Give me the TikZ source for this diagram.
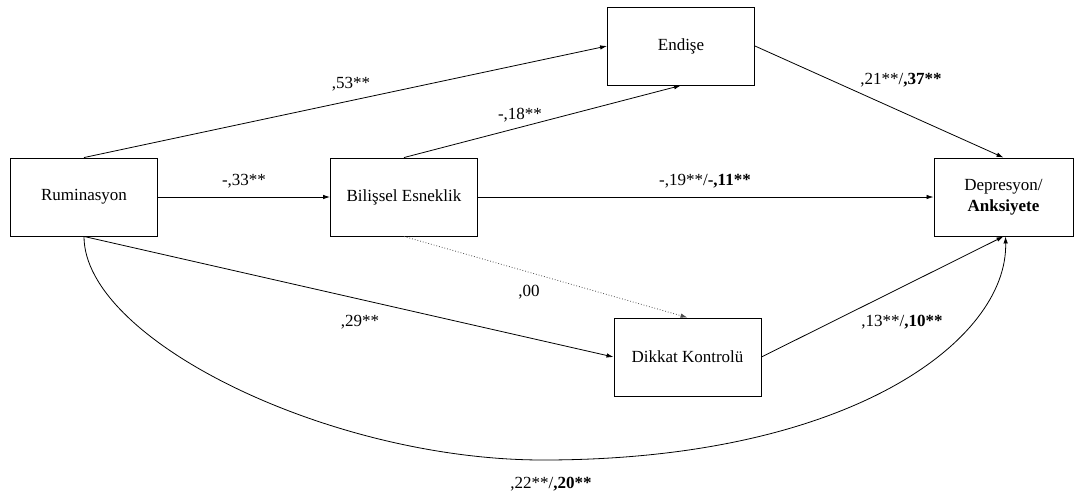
\documentclass[tikz,border=0pt]{standalone}
\usepackage{fontspec}
\setmainfont{Liberation Serif}
\usetikzlibrary{arrows.meta}
\begin{document}
\begin{tikzpicture}[x=1pt,y=-1pt,
  box/.style={draw, line width=0.9pt, minimum width=147pt, minimum height=78pt, inner sep=0pt, align=center, font=\fontsize{17}{21}\selectfont},
  lbl/.style={inner sep=0pt, font=\fontsize{17}{20}\selectfont},
  conn/.style={line width=0.8pt, -{Latex[length=7pt,width=4.5pt]}},
  dotconn/.style={line width=0.8pt, dotted, draw=black!70, -{Latex[length=7pt,width=4.5pt]}}]
\useasboundingbox (0,0) rectangle (1074,496);
\node[box] (rum) at (84,197) {Ruminasyon};
\node[box] (bil) at (404,197) {Bilişsel Esneklik};
\node[box] (end) at (681,46) {Endişe};
\node[box, minimum width=139pt] (dep) at (1003.5,197) {Depresyon/\\\textbf{Anksiyete}};
\node[box] (dik) at (687.5,357) {Dikkat Kontrolü};
\coordinate (cb) at (543,460);

\draw[conn] (rum.north) -- (end.west);
\draw[conn] (bil.north) -- (end.south);
\draw[conn] (rum.east) -- (bil.west);
\draw[conn] (bil.east) -- (dep.west);
\draw[conn] (end.east) -- (dep.north);
\draw[dotconn] (bil.south) -- (dik.north);
\draw[conn] (rum.south) -- (dik.west);
\draw[conn] (dik.east) -- (dep.south);
\draw[conn] (rum.south) .. controls (84,340) and (330,460) .. (cb)
  .. controls (850,460) and (1008,340) .. ([xshift=2pt]dep.south);

\node[lbl] (l53) at (351,84) {,53**};
\node[lbl] (l18) at (520,115) {-,18**};
\node[lbl] (l33) at (244,181) {-,33**};
\node[lbl] (l19) at (705,181) {-,19**/\textbf{-,11**}};
\node[lbl] (l21) at (901,80) {,21**/\textbf{,37**}};
\node[lbl] (l00) at (529,292) {,00};
\node[lbl] (l29) at (360,322) {,29**};
\node[lbl] (l13) at (902,322) {,13**/\textbf{,10**}};
\node[lbl] (l22) at (551,484) {,22**/\textbf{,20**}};
\end{tikzpicture}
\end{document}
